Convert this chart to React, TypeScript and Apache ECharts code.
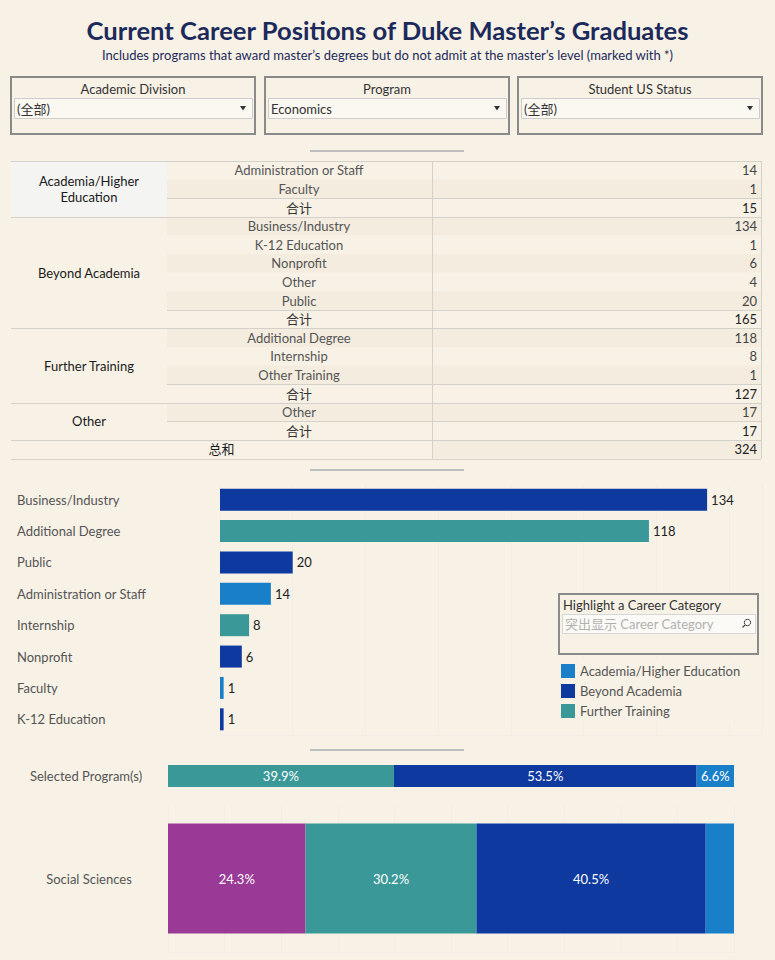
import React, { useEffect, useRef } from "react";
import * as echarts from "echarts";

const BG = "#f8f2e6";
const BAND = "#f3ecdf";
const FONT = "Lato, 'Noto Sans CJK SC', sans-serif";
const FS = 13;

const titleText = "Current Career Positions of Duke Master’s Graduates";
const subtitleText =
  "Includes programs that award master’s degrees but do not admit at the master’s level (marked with *)";

const filterTitles = ["Academic Division", "Program", "Student US Status"];
const filterValues = ["(全部)", "Economics", "(全部)"];

const groupLabels = ["Academia/Higher\nEducation", "Beyond Academia", "Further Training", "Other"];
const groupSubcats = [
  ["Administration or Staff", "Faculty"],
  ["Business/Industry", "K-12 Education", "Nonprofit", "Other", "Public"],
  ["Additional Degree", "Internship", "Other Training"],
  ["Other"],
];
const groupCounts = [[14, 1], [134, 1, 6, 4, 20], [118, 8, 1], [17]];
const groupTotals = [15, 165, 127, 17];
const totalLabel = "合计";
const grandTotalLabel = "总和";
const grandTotal = 324;

const barCategories = [
  "Business/Industry",
  "Additional Degree",
  "Public",
  "Administration or Staff",
  "Internship",
  "Nonprofit",
  "Faculty",
  "K-12 Education",
];
const barValues = [134, 118, 20, 14, 8, 6, 1, 1];
const barGroups = [
  "Beyond Academia",
  "Further Training",
  "Beyond Academia",
  "Academia/Higher Education",
  "Further Training",
  "Beyond Academia",
  "Academia/Higher Education",
  "Beyond Academia",
];

const legendNames = ["Academia/Higher Education", "Beyond Academia", "Further Training"];
const groupColors: Record<string, string> = {
  "Academia/Higher Education": "#1a7fc9",
  "Beyond Academia": "#0e399f",
  "Further Training": "#3a9998",
  Other: "#983a96",
};

const highlightTitle = "Highlight a Career Category";
const highlightPlaceholder = "突出显示 Career Category";

const compareRows = ["Selected Program(s)", "Social Sciences"];
const selectedGroups = ["Further Training", "Beyond Academia", "Academia/Higher Education"];
const selectedShares = [39.9, 53.5, 6.6];
const socialGroups = ["Other", "Further Training", "Beyond Academia", "Academia/Higher Education"];
const socialShares = [24.3, 30.2, 40.5, 5.0];

function txt(text: string, x: number, y: number, o: any = {}) {
  return {
    type: "text",
    x,
    y,
    z: 20,
    silent: true,
    style: {
      text,
      fill: o.fill || "#333",
      fontSize: o.size || FS,
      fontWeight: o.weight || "normal",
      fontFamily: FONT,
      align: o.align || "left",
      textAlign: o.align || "left",
      verticalAlign: "middle",
      textVerticalAlign: "middle",
      lineHeight: o.lineHeight,
    },
  };
}
function rect(x: number, y: number, w: number, h: number, style: any, z = 10) {
  return { type: "rect", z, silent: true, shape: { x, y, width: w, height: h }, style };
}
function hline(x1: number, x2: number, y: number, stroke = "#d4d1cb", lw = 1) {
  return { type: "line", z: 15, silent: true, shape: { x1, y1: y, x2, y2: y }, style: { stroke, lineWidth: lw } };
}
function vline(x: number, y1: number, y2: number, stroke = "#d4d1cb", lw = 1) {
  return { type: "line", z: 15, silent: true, shape: { x1: x, y1, x2: x, y2 }, style: { stroke, lineWidth: lw } };
}

function buildGraphics() {
  const g: any[] = [];
  // title
  g.push(txt(titleText, 387.5, 30, { align: "center", size: 25.6, weight: "bold", fill: "#1c2a5b" }));
  g.push(txt(subtitleText, 387.5, 55, { align: "center", size: 13, fill: "#1c2a5b" }));

  // filters
  const boxX = [11, 265, 518];
  filterTitles.forEach((t, i) => {
    const x = boxX[i];
    g.push(rect(x, 77, 244, 57, { fill: "none", stroke: "#8a8a8a", lineWidth: 2 }));
    g.push(txt(t, x + 122, 89, { align: "center", fill: "#333" }));
    g.push(rect(x + 3.5, 98.5, 238, 20, { fill: "#fbf8f2", stroke: "#cfcccc", lineWidth: 1 }));
    g.push(txt(filterValues[i], x + 6, 108.5, { fill: "#333" }));
    g.push({
      type: "polygon",
      z: 20,
      silent: true,
      shape: { points: [[x + 229, 106], [x + 235, 106], [x + 232, 110.5]] },
      style: { fill: "#333" },
    });
  });

  // separators
  [151, 470, 750].forEach((y) => g.push(hline(310, 464, y, "#bdbdbd", 2)));

  // table
  const ROW_H = 18.6;
  const TOP = 161;
  const rows: { label: string; value: number; total: boolean }[] = [];
  const groupStart: number[] = [];
  groupSubcats.forEach((subs, gi) => {
    groupStart.push(rows.length);
    subs.forEach((s, i) => rows.push({ label: s, value: groupCounts[gi][i], total: false }));
    rows.push({ label: totalLabel, value: groupTotals[gi], total: true });
  });
  const grandIdx = rows.length;
  for (let i = 0; i <= grandIdx; i++) {
    if (i % 2 === 1) {
      const x0 = i === grandIdx ? 432 : 167;
      g.push(rect(x0, TOP + i * ROW_H, 761 - x0, ROW_H, { fill: BAND }));
    }
  }
  g.push(rect(11, TOP, 156, 3 * ROW_H, { fill: "#f4f4f3" }));
  rows.forEach((r, i) => {
    const cy = TOP + i * ROW_H + ROW_H / 2;
    g.push(txt(r.label, 299, cy, { align: "center", fill: r.total ? "#333" : "#555" }));
    g.push(txt(String(r.value), 757, cy, { align: "right", fill: r.total ? "#222" : "#444" }));
    if (r.total) g.push(hline(167, 761, Math.round(TOP + i * ROW_H) + 0.5));
  });
  groupStart.forEach((s, gi) => {
    const n = groupSubcats[gi].length + 1;
    const cy = TOP + (s + n / 2) * ROW_H;
    g.push(txt(groupLabels[gi], 89, cy, { align: "center", fill: "#1a1a1a", lineHeight: 16 }));
    g.push(hline(11, 761, Math.round(TOP + s * ROW_H) + 0.5));
  });
  g.push(hline(11, 761, Math.round(TOP + grandIdx * ROW_H) + 0.5));
  g.push(hline(11, 761, Math.round(TOP + (grandIdx + 1) * ROW_H) + 0.5));
  g.push(txt(grandTotalLabel, 221.5, TOP + grandIdx * ROW_H + ROW_H / 2, { align: "center", fill: "#1a1a1a" }));
  g.push(txt(String(grandTotal), 757, TOP + grandIdx * ROW_H + ROW_H / 2, { align: "right", fill: "#222" }));
  g.push(vline(432.5, TOP, TOP + (grandIdx + 1) * ROW_H));
  g.push(vline(761.5, TOP, TOP + (grandIdx + 1) * ROW_H));

  // highlight box
  g.push(rect(559, 594, 199, 60, { fill: BG, stroke: "#8a8a8a", lineWidth: 2 }));
  g.push(txt(highlightTitle, 563, 604.5, { fill: "#333" }));
  g.push(rect(562.5, 614.5, 193, 19, { fill: "#fcfaf6", stroke: "#d6d6d6", lineWidth: 1 }, 15));
  g.push(txt(highlightPlaceholder, 565, 624, { fill: "#b0b0b0" }));
  g.push({ type: "circle", z: 20, silent: true, shape: { cx: 747.5, cy: 622.5, r: 3.2 }, style: { fill: "none", stroke: "#444", lineWidth: 1 } });
  g.push({ type: "line", z: 20, silent: true, shape: { x1: 745.2, y1: 624.8, x2: 742.5, y2: 627.5 }, style: { stroke: "#444", lineWidth: 1.2 } });

  // legend
  g.push(rect(559, 660, 199, 62, { fill: BG }));
  legendNames.forEach((n, i) => {
    const y = 664 + i * 20;
    g.push(rect(561, y, 14, 14, { fill: groupColors[n] }, 15));
    g.push(txt(n, 580, y + 7, { fill: "#555" }));
  });
  return g;
}

const GRID_LINE = "#f3eee5";

export default function App() {
  const ref = useRef<HTMLDivElement>(null);
  useEffect(() => {
    document.body.style.margin = "0";
    document.body.style.background = BG;
    const chart = echarts.init(ref.current!, undefined, { renderer: "svg" });
    const pctLabel = (hide = false) => ({
      show: !hide,
      position: "inside",
      color: "#fff",
      fontSize: FS,
      fontFamily: FONT,
      formatter: (p: any) => `${Number(p.value).toFixed(1)}%`,
    });
    const option: any = {
      animation: false,
      backgroundColor: BG,
      textStyle: { fontFamily: FONT },
      grid: [
        { left: 220, top: 484, width: 542, height: 251 },
        { left: 168, top: 762, width: 566, height: 28 },
        { left: 168, top: 805, width: 566, height: 147 },
      ],
      xAxis: [
        {
          gridIndex: 0,
          type: "value",
          min: 0,
          max: 149.1,
          interval: 20,
          axisLabel: { show: false },
          axisTick: { show: false },
          axisLine: { show: true, lineStyle: { color: GRID_LINE } },
          splitLine: { show: true, lineStyle: { color: GRID_LINE } },
        },
        {
          gridIndex: 1,
          type: "value",
          min: 0,
          max: 100,
          interval: 10,
          axisLabel: { show: false },
          axisTick: { show: false },
          axisLine: { show: true, lineStyle: { color: GRID_LINE } },
          splitLine: { show: false },
        },
        {
          gridIndex: 2,
          type: "value",
          min: 0,
          max: 100,
          interval: 10,
          axisLabel: { show: false },
          axisTick: { show: false },
          axisLine: { show: true, lineStyle: { color: GRID_LINE } },
          splitLine: { show: true, lineStyle: { color: GRID_LINE } },
        },
      ],
      yAxis: [
        {
          gridIndex: 0,
          type: "category",
          inverse: true,
          data: barCategories,
          axisLine: { show: false },
          axisTick: { show: false },
          axisLabel: { align: "left", margin: 203, color: "#555", fontSize: FS, fontFamily: FONT },
        },
        {
          gridIndex: 1,
          type: "category",
          data: [compareRows[0]],
          axisLine: { show: false },
          axisTick: { show: false },
          axisLabel: { align: "center", margin: 82, color: "#555", fontSize: FS, fontFamily: FONT },
        },
        {
          gridIndex: 2,
          type: "category",
          data: [compareRows[1]],
          axisLine: { show: false },
          axisTick: { show: false },
          axisLabel: { align: "center", margin: 79, color: "#555", fontSize: FS, fontFamily: FONT },
        },
      ],
      series: [
        {
          type: "bar",
          xAxisIndex: 0,
          yAxisIndex: 0,
          barWidth: 22,
          data: barValues.map((v, i) => ({ value: v, itemStyle: { color: groupColors[barGroups[i]] } })),
          label: { show: true, position: "right", distance: 4, color: "#222", fontSize: FS, fontFamily: FONT },
        },
        ...selectedGroups.map((gname, i) => ({
          type: "bar",
          name: gname,
          xAxisIndex: 1,
          yAxisIndex: 1,
          stack: "sel",
          barWidth: 22,
          itemStyle: { color: groupColors[gname] },
          data: [selectedShares[i]],
          label: pctLabel(),
        })),
        ...socialGroups.map((gname, i) => ({
          type: "bar",
          name: gname,
          xAxisIndex: 2,
          yAxisIndex: 2,
          stack: "soc",
          barWidth: 110,
          itemStyle: { color: groupColors[gname] },
          data: [socialShares[i]],
          label: pctLabel(socialShares[i] < 6),
        })),
      ],
      graphic: buildGraphics(),
    };
    chart.setOption(option);
    return () => chart.dispose();
  }, []);
  return <div ref={ref} style={{ width: 775, height: 960, background: BG }} />;
}
